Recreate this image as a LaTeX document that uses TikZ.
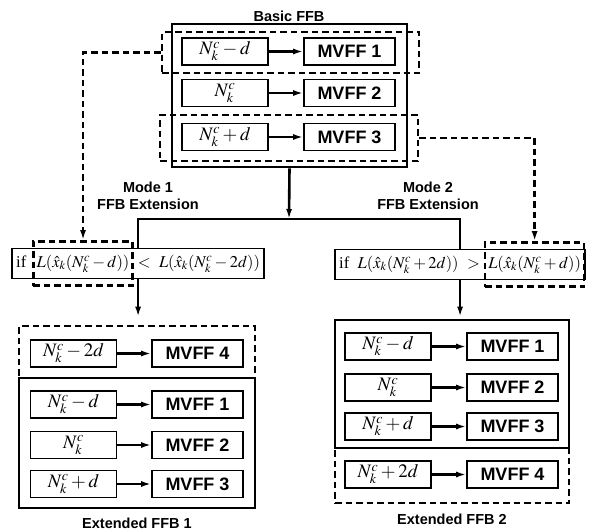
\documentclass[tikz,border=0pt]{standalone}
\usepackage{mathptmx}
\usepackage[no-math]{fontspec}
\setmainfont{Liberation Serif}
\setsansfont{Liberation Sans}
\usetikzlibrary{arrows.meta,positioning,fit}

\tikzset{
  numbox/.style={draw, line width=1.6pt, minimum width=86pt, minimum height=27pt, inner sep=0pt, font=\fontsize{19}{21}\selectfont},
  mvffbox/.style={draw, line width=1.6pt, minimum width=91pt, minimum height=27pt, inner sep=0pt, font=\sffamily\bfseries\fontsize{18}{20}\selectfont},
  feed/.style={line width=2.6pt, -{Latex[length=10pt,width=6pt]}},
  splitline/.style={line width=1.5pt},
  grpbox/.style={draw, line width=2.6pt, inner sep=0pt},
  hlbox/.style={draw, line width=2.6pt, dash pattern=on 6.5pt off 4pt, inner sep=0pt},
  hlfeed/.style={line width=2.6pt, dash pattern=on 6.5pt off 4pt, -{Latex[length=10pt,width=6pt]}},
  ttl/.style={font=\sffamily\bfseries\fontsize{14.5}{17}\selectfont, align=center},
  mtext/.style={inner sep=0pt, font=\fontsize{16.5}{18}\selectfont},
  ifbox/.style={draw, line width=1.8pt, inner xsep=4pt, inner ysep=6pt},
}

\begin{document}
\begin{tikzpicture}[x=1pt, y=-1pt]

  \useasboundingbox (0,0) rectangle (592,531);

  % -- Basic FFB --
  \node[ttl] (ttlbasic) at (289,16) {Basic FFB};
  \node[grpbox, minimum width=235pt, minimum height=143pt] (basic) at (289.5,95.5) {};
  \node[hlbox, minimum width=257pt, minimum height=41pt] (hl1) at (290.5,52.5) {};
  \node[hlbox, minimum width=258pt, minimum height=46pt] (hl3) at (289,138) {};

  \node[numbox] (b1n) at (225,51.5) {$N_k^c-d$};
  \node[mvffbox] (b1m) at (349.5,51.5) {MVFF 1};
  \node[numbox] (b2n) at (225,93) {$N_k^c$};
  \node[mvffbox] (b2m) at (349.5,93) {MVFF 2};
  \node[numbox] (b3n) at (225,137) {$N_k^c+d$};
  \node[mvffbox] (b3m) at (349.5,137) {MVFF 3};

  \draw[feed] (b1n) -- (b1m);
  \draw[feed] (b2n) -- (b2m);
  \draw[feed] (b3n) -- (b3m);

  % -- Mode labels --
  \node[ttl] (mode1) at (148,196) {Mode 1\\FFB Extension};
  \node[ttl] (mode2) at (428,196) {Mode 2\\FFB Extension};

  % -- Mode 1 condition --
  \node[mtext, anchor=base west] (ifwL) at (16,267) {if};
  \node[mtext, anchor=base west] (lhsL) at ([xshift=10pt]ifwL.base east) {$L(\hat{x}_k(N_k^c-d))$};
  \node[mtext, anchor=base west] (ltL) at ([xshift=8pt]lhsL.base east) {$<$};
  \node[mtext, anchor=base west] (rhsL) at ([xshift=8pt]ltL.base east) {$L(\hat{x}_k(N_k^c-2d))$};
  \node[ifbox, fit=(ifwL)(rhsL)] (condL) {};
  \node[hlbox, fit=(lhsL), inner xsep=3pt, inner ysep=13pt] (hlL) {};

  % -- Mode 2 condition --
  \node[mtext, anchor=base west] (ifwR) at (339,268) {if};
  \node[mtext, anchor=base west] (lhsR) at ([xshift=8pt]ifwR.base east) {$L(\hat{x}_k(N_k^c+2d))$};
  \node[mtext, anchor=base west] (gtR) at ([xshift=8pt]lhsR.base east) {$>$};
  \node[mtext, anchor=base west] (rhsR) at ([xshift=8pt]gtR.base east) {$L(\hat{x}_k(N_k^c+d))$};
  \node[ifbox, fit=(ifwR)(rhsR)] (condR) {};
  \node[hlbox, fit=(rhsR), inner xsep=3pt, inner ysep=13pt] (hlR) {};

  % -- Split to both modes --
  \coordinate (junc) at (289,219);
  \draw[feed] (basic.south) -- (junc);
  \draw[splitline] (condL.north) |- (junc) -| (condR.north);

  % -- Selected MVFF feeds --
  \draw[hlfeed] (hl1.west) -| (hlL.north);
  \draw[hlfeed] (hl3.east) -| (hlR.north);

  % -- Extended FFB 1 --
  \node[hlbox, minimum width=236pt, minimum height=52pt] (ext1add) at (137,352) {};
  \node[grpbox, minimum width=236pt, minimum height=130pt] (ext1) at (137,443) {};

  \node[numbox] (e1an) at (73.5,353.5) {$N_k^c-2d$};
  \node[mvffbox] (e1am) at (197.5,353.5) {MVFF 4};
  \node[numbox] (e1bn) at (73.5,404.5) {$N_k^c-d$};
  \node[mvffbox] (e1bm) at (197.5,404.5) {MVFF 1};
  \node[numbox] (e1cn) at (73.5,445) {$N_k^c$};
  \node[mvffbox] (e1cm) at (197.5,445) {MVFF 2};
  \node[numbox] (e1dn) at (73.5,484) {$N_k^c+d$};
  \node[mvffbox] (e1dm) at (197.5,484) {MVFF 3};

  \draw[feed] (e1an) -- (e1am);
  \draw[feed] (e1bn) -- (e1bm);
  \draw[feed] (e1cn) -- (e1cm);
  \draw[feed] (e1dn) -- (e1dm);

  \node[ttl] (ttlext1) at (137,523) {Extended FFB 1};
  \draw[feed, shorten >=8pt] (condL.south) -- (condL.south |- ext1add.north);

  % -- Extended FFB 2 --
  \node[hlbox, minimum width=234pt, minimum height=55pt] (ext2add) at (452,475.5) {};
  \node[grpbox, minimum width=234pt, minimum height=128pt] (ext2) at (452,384) {};

  \node[numbox] (e2an) at (388,346.5) {$N_k^c-d$};
  \node[mvffbox] (e2am) at (512.5,346.5) {MVFF 1};
  \node[numbox] (e2bn) at (388,387.5) {$N_k^c$};
  \node[mvffbox] (e2bm) at (512.5,387.5) {MVFF 2};
  \node[numbox] (e2cn) at (388,426.5) {$N_k^c+d$};
  \node[mvffbox] (e2cm) at (512.5,426.5) {MVFF 3};
  \node[numbox] (e2dn) at (388,474.5) {$N_k^c+2d$};
  \node[mvffbox] (e2dm) at (512.5,474.5) {MVFF 4};

  \draw[feed] (e2an) -- (e2am);
  \draw[feed] (e2bn) -- (e2bm);
  \draw[feed] (e2cn) -- (e2cm);
  \draw[feed] (e2dn) -- (e2dm);

  \node[ttl] (ttlext2) at (452,519) {Extended FFB 2};
  \draw[feed, shorten >=2pt] (condR.south) -- (condR.south |- ext2.north);

\end{tikzpicture}
\end{document}
